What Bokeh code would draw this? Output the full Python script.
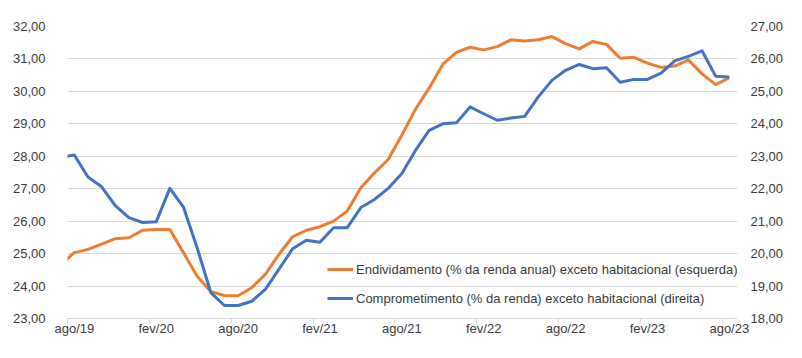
from bokeh.plotting import figure
from bokeh.models import (Range1d, LinearAxis, FixedTicker, CustomJSTickFormatter,
                          Legend, LegendItem, ColumnDataSource)
from bokeh.embed import file_html
from bokeh.resources import INLINE

# ---------------- data ----------------
meses = ["jul/19", "ago/19", "set/19", "out/19", "nov/19", "dez/19",
         "jan/20", "fev/20", "mar/20", "abr/20", "mai/20", "jun/20",
         "jul/20", "ago/20", "set/20", "out/20", "nov/20", "dez/20",
         "jan/21", "fev/21", "mar/21", "abr/21", "mai/21", "jun/21",
         "jul/21", "ago/21", "set/21", "out/21", "nov/21", "dez/21",
         "jan/22", "fev/22", "mar/22", "abr/22", "mai/22", "jun/22",
         "jul/22", "ago/22", "set/22", "out/22", "nov/22", "dez/22",
         "jan/23", "fev/23", "mar/23", "abr/23", "mai/23", "jun/23",
         "jul/23", "ago/23"]

endividamento = [24.67, 25.03, 25.13, 25.29, 25.46, 25.49,
                 25.72, 25.74, 25.74, 25.03, 24.30, 23.83,
                 23.71, 23.70, 23.95, 24.36, 24.98, 25.52,
                 25.72, 25.83, 26.00, 26.31, 27.03, 27.49,
                 27.90, 28.65, 29.45, 30.10, 30.83, 31.20,
                 31.36, 31.28, 31.38, 31.59, 31.55, 31.59,
                 31.69, 31.47, 31.31, 31.54, 31.45, 31.02,
                 31.05, 30.87, 30.74, 30.78, 30.97, 30.54,
                 30.21, 30.42]

comprometimento = [22.97, 23.04, 22.36, 22.06, 21.48, 21.11,
                   20.96, 20.98, 22.01, 21.43, 20.18, 18.80,
                   18.40, 18.40, 18.53, 18.90, 19.52, 20.15,
                   20.41, 20.35, 20.80, 20.80, 21.42, 21.67,
                   22.01, 22.47, 23.18, 23.80, 24.00, 24.03,
                   24.52, 24.31, 24.11, 24.18, 24.23, 24.83,
                   25.34, 25.65, 25.83, 25.70, 25.73, 25.28,
                   25.37, 25.37, 25.56, 25.94, 26.08, 26.25,
                   25.47, 25.44]

x_tick_labels = ["ago/19", "fev/20", "ago/20", "fev/21", "ago/21",
                 "fev/22", "ago/22", "fev/23", "ago/23"]

serie_esq = "Endividamento (% da renda anual) exceto habitacional (esquerda)"
serie_dir = "Comprometimento (% da renda) exceto habitacional (direita)"

# month index: ago/19 is category 0, centred at 0.5
xs = [i - 0.5 for i in range(len(meses))]
src = ColumnDataSource(dict(x=xs, mes=meses, end=endividamento, comp=comprometimento))

FONT = "Liberation Sans"
TXT = "#3b3b3b"
GRID = "#d9d9d9"

p = figure(width=786, height=342, output_backend="svg", toolbar_location=None,
           x_range=Range1d(0, 49.1), y_range=Range1d(23, 32),
           min_border_left=67, min_border_right=41, min_border_top=26,
           min_border_bottom=24, outline_line_color=None,
           background_fill_color="white", border_fill_color="white")
p.extra_y_ranges = {"dir": Range1d(18, 27)}

fmt = CustomJSTickFormatter(code="return tick.toFixed(2).replace('.', ',');")

yl = p.yaxis[0]
yl.ticker = FixedTicker(ticks=list(range(23, 33)))
yl.formatter = fmt
p.ygrid.ticker = FixedTicker(ticks=list(range(23, 33)))
p.ygrid.grid_line_color = GRID
p.xgrid.grid_line_color = None

yr = LinearAxis(y_range_name="dir", ticker=FixedTicker(ticks=list(range(18, 28))),
                formatter=fmt)
p.add_layout(yr, "right")

for ax in (yl, yr):
    ax.axis_line_color = None
    ax.major_tick_line_color = None
    ax.minor_tick_line_color = None
    ax.major_label_text_font = FONT
    ax.major_label_text_font_size = "13px"
    ax.major_label_text_color = TXT
yl.major_label_standoff = 16
yr.major_label_standoff = 7

# x axis: tick marks at category boundaries every 6 months
xa = p.xaxis[0]
tick_pos = [6 * k for k in range(len(x_tick_labels))]
xa.ticker = FixedTicker(ticks=tick_pos)
xa.major_label_overrides = {t: "" for t in tick_pos}
xa.axis_line_color = GRID
xa.major_tick_line_color = GRID
xa.major_tick_in = 0
xa.major_tick_out = 5
xa.minor_tick_line_color = None
xa.major_label_standoff = 0
xa.major_label_text_font_size = "0px"

# x labels centred on their month
lab_pos = [t + 0.5 for t in tick_pos]
xb = LinearAxis(ticker=FixedTicker(ticks=lab_pos),
                major_label_overrides={t: l for t, l in zip(lab_pos, x_tick_labels)})
xb.axis_line_color = None
xb.major_tick_line_color = None
xb.major_tick_out = 0
xb.major_tick_in = 0
xb.minor_tick_line_color = None
xb.minor_tick_out = 0
xb.major_label_standoff = -3
xb.major_label_text_font = FONT
xb.major_label_text_font_size = "13px"
xb.major_label_text_color = TXT
p.add_layout(xb, "below")

r1 = p.line("x", "end", source=src, line_color="#ED7D31", line_width=3,
            line_join="round")
r2 = p.line("x", "comp", source=src, y_range_name="dir", line_color="#4472C4",
            line_width=3, line_join="round")

legend = Legend(items=[LegendItem(label=serie_esq, renderers=[r1]),
                       LegendItem(label=serie_dir, renderers=[r2])],
                location=(260, 10), orientation="vertical")
legend.background_fill_alpha = 0
legend.border_line_color = None
legend.padding = 0
legend.margin = 0
legend.spacing = 9
legend.glyph_width = 26
legend.glyph_height = 20
legend.label_height = 20
legend.label_standoff = 3
legend.label_text_font = FONT
legend.label_text_font_size = "13px"
legend.label_text_color = TXT
p.add_layout(legend)

open("out.html", "w").write(file_html(p, INLINE))
